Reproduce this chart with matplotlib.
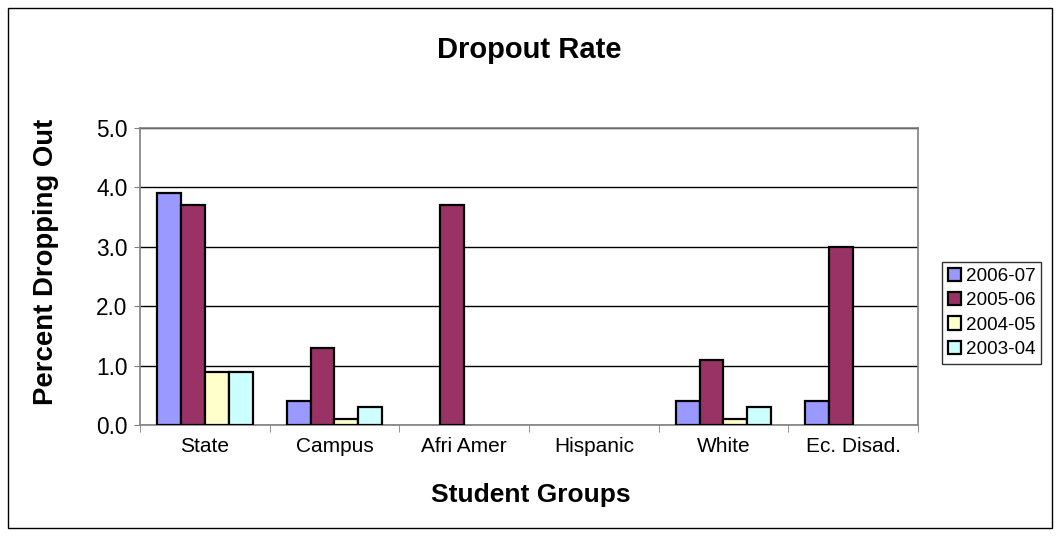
import matplotlib
matplotlib.use("Agg")
import matplotlib.pyplot as plt
import numpy as np
from matplotlib.patches import Rectangle

categories = ["State", "Campus", "Afri Amer", "Hispanic", "White", "Ec. Disad."]
series_names = ["2006-07", "2005-06", "2004-05", "2003-04"]
v_2006_07 = [3.9, 0.4, 0.0, 0.0, 0.4, 0.4]
v_2005_06 = [3.7, 1.3, 3.7, 0.0, 1.1, 3.0]
v_2004_05 = [0.9, 0.1, 0.0, 0.0, 0.1, 0.0]
v_2003_04 = [0.9, 0.3, 0.0, 0.0, 0.3, 0.0]
colors = ["#9999FF", "#993366", "#FFFFCC", "#CCFFFF"]
yticks = [0.0, 1.0, 2.0, 3.0, 4.0, 5.0]

plt.rcParams['font.family'] = ['Liberation Sans', 'DejaVu Sans']

fig = plt.figure(figsize=(10.6, 5.36), dpi=100)
fig.patches.append(Rectangle((8/1060, 8/536), 1044/1060, 520/536, transform=fig.transFigure,
                             fill=False, edgecolor='black', linewidth=1.0))
ax = fig.add_axes([140/1060, 1-425/536, 778/1060, 297/536])

x = np.arange(len(categories))
bw = 0.185
all_vals = [v_2006_07, v_2005_06, v_2004_05, v_2003_04]
handles = []
for i, (vals, c, name) in enumerate(zip(all_vals, colors, series_names)):
    offs = (i - 1.5) * bw
    vals = np.array(vals)
    mask = vals > 0
    ax.bar(x[mask] + offs, vals[mask], width=bw, color=c, edgecolor='black', linewidth=1.6, zorder=3)
    handles.append(Rectangle((0, 0), 1, 1, facecolor=c, edgecolor='black', linewidth=1.6))

ax.set_xlim(-0.5, len(categories) - 0.5)
ax.set_ylim(0, 5.0)
ax.set_yticks(yticks)
ax.set_yticklabels([f"{t:.1f}" for t in yticks], fontsize=16.3)
ax.yaxis.grid(True, color='black', linewidth=1.0, zorder=0)
ax.set_axisbelow(True)
for s in ax.spines.values():
    s.set_color('#808080')
    s.set_linewidth(1.2)
ax.tick_params(axis='y', length=4, color='#808080', direction='out', pad=5)
ax.set_xticks(x)
ax.set_xticklabels(categories, fontsize=15)
ax.tick_params(axis='x', length=0, pad=9)
ax.set_xticks(np.arange(len(categories) + 1) - 0.5, minor=True)
ax.tick_params(axis='x', which='minor', length=5, color='#808080', direction='out')

fig.text(529 / 1060, 1 - 50 / 536, "Dropout Rate", ha='center', va='center',
         fontsize=21, fontweight='bold')
fig.text(46 / 1060, 1 - 262 / 536, "Percent Dropping Out", ha='center', va='center',
         rotation=90, fontsize=19.8, fontweight='bold')
fig.text(531 / 1060, 1 - 495 / 536, "Student Groups", ha='center', va='center',
         fontsize=19, fontweight='bold')

leg = fig.legend(handles, series_names, loc='upper left', bbox_to_anchor=(942/1060, 1-262/536),
                 frameon=True, fancybox=False, edgecolor='black', fontsize=13.6,
                 handlelength=0.7, handleheight=0.7, handletextpad=0.25, borderpad=0.3,
                 labelspacing=0.38, borderaxespad=0)
leg.get_frame().set_linewidth(1.0)

fig.savefig("out.png", dpi=100)
